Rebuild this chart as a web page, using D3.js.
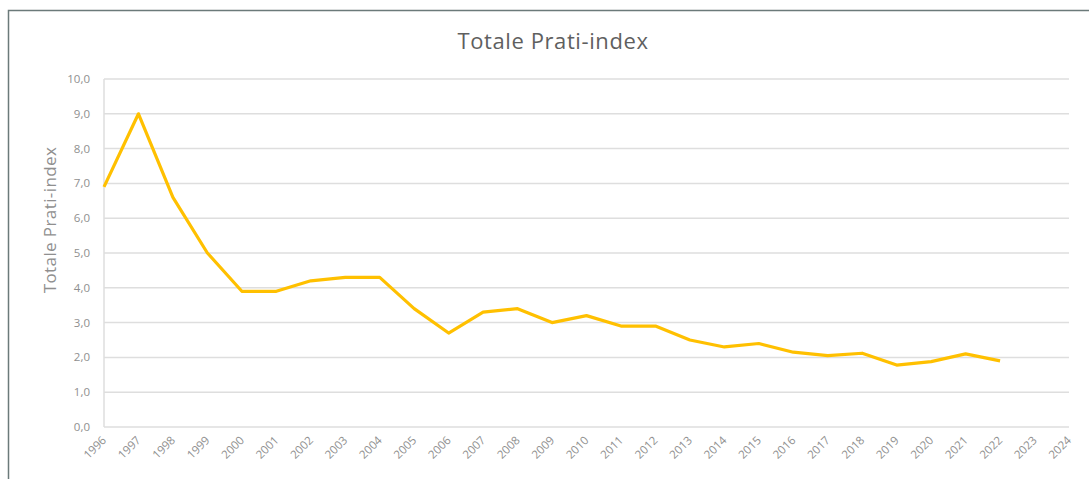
<!DOCTYPE html>
<html>
<head>
<meta charset="utf-8">
<script src="https://cdn.jsdelivr.net/npm/d3@7"></script>
<style>
  html, body { margin: 0; padding: 0; background: #fff; }
  svg text { font-family: "Open Sans", "Liberation Sans", sans-serif; }
</style>
</head>
<body>
<div id="chart"></div>
<script>
const years = d3.range(1996, 2025).map(String);
// waarden 1996 t/m 2022, 2023 en 2024 leeg
const values = [6.9, 9.0, 6.6, 5.0, 3.9, 3.9, 4.2, 4.3, 4.3, 3.4,
                2.7, 3.3, 3.4, 3.0, 3.2, 2.9, 2.9, 2.5, 2.3, 2.4,
                2.15, 2.05, 2.12, 1.78, 1.88, 2.1, 1.9];
const yTicks = d3.range(0, 11);

const width = 1089, height = 479;
const margin = {top: 79, right: 20, bottom: 52, left: 104};
const plotRight = 1069;

const svg = d3.select("#chart").append("svg")
    .attr("width", width)
    .attr("height", height)
    .attr("viewBox", [0, 0, width, height]);

// kader
svg.append("rect")
    .attr("x", 8.5).attr("y", 10.5)
    .attr("width", width + 10).attr("height", height + 10)
    .attr("fill", "none")
    .attr("stroke", "#6b7a7a")
    .attr("stroke-width", 1.5);

const x = d3.scalePoint()
    .domain(years)
    .range([margin.left, plotRight]);

const y = d3.scaleLinear()
    .domain([0, 10])
    .range([427, margin.top]);

// gridlijnen
svg.append("g")
    .selectAll("line")
    .data(yTicks)
    .join("line")
    .attr("x1", margin.left)
    .attr("x2", plotRight)
    .attr("y1", d => y(d))
    .attr("y2", d => y(d))
    .attr("stroke", "#dedede")
    .attr("stroke-width", 1.5);

// y-as lijn
svg.append("line")
    .attr("x1", margin.left).attr("x2", margin.left)
    .attr("y1", y(10)).attr("y2", y(0))
    .attr("stroke", "#dedede")
    .attr("stroke-width", 1.5);

// y labels
const fmt = d => d3.format(".1f")(d).replace(".", ",");
svg.append("g")
    .selectAll("text")
    .data(yTicks)
    .join("text")
    .attr("x", 90)
    .attr("y", d => y(d))
    .attr("dy", "0.35em")
    .attr("text-anchor", "end")
    .attr("font-size", 11.5)
    .attr("fill", "#8f8f8f")
    .text(fmt);

// x labels
svg.append("g")
    .selectAll("text")
    .data(years)
    .join("text")
    .attr("transform", d => `translate(${x(d) + 3},${441}) rotate(-45)`)
    .attr("text-anchor", "end")
    .attr("font-size", 11.5)
    .attr("fill", "#8f8f8f")
    .text(d => d);

// lijn
const line = d3.line()
    .x((d, i) => x(years[i]))
    .y(d => y(d));

svg.append("path")
    .datum(values)
    .attr("fill", "none")
    .attr("stroke", "#ffc000")
    .attr("stroke-width", 3.2)
    .attr("stroke-linejoin", "round")
    .attr("d", line);

// titel
svg.append("text")
    .attr("x", 553)
    .attr("y", 49)
    .attr("text-anchor", "middle")
    .attr("font-size", 22)
    .attr("letter-spacing", 0.6)
    .attr("fill", "#5f5f5f")
    .text("Totale Prati-index");

// y as titel
svg.append("text")
    .attr("transform", "translate(56,220) rotate(-90)")
    .attr("text-anchor", "middle")
    .attr("font-size", 17)
    .attr("letter-spacing", 0.4)
    .attr("fill", "#8f8f8f")
    .text("Totale Prati-index");
</script>
</body>
</html>
